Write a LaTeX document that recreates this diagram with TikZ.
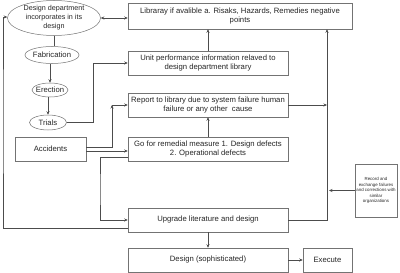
\documentclass[tikz,border=0pt]{standalone}
\usepackage{fontspec}
\setmainfont{Liberation Sans}
\usetikzlibrary{arrows.meta,shapes.geometric}
\begin{document}
\begin{tikzpicture}[x=1pt,y=-1pt,
  every node/.style={text=black!85},
  box/.style={draw=black!55, line width=0.5pt, fill=white, minimum width=160pt, minimum height=24pt, inner sep=1pt, align=center, font=\fontsize{7.7}{9.5}\selectfont},
  ell/.style={draw=black!55, line width=0.5pt, ellipse, inner sep=-5pt, align=center, font=\fontsize{7.7}{9.5}\selectfont},
  arr/.style={-{Stealth[length=3.5pt,width=3pt]}, draw=black!70, line width=0.5pt},
  biarr/.style={{Stealth[length=3.5pt,width=3pt]}-{Stealth[length=3.5pt,width=3pt]}, draw=black!70, line width=0.5pt},
  ln/.style={draw=black!70, line width=0.5pt}]
\useasboundingbox (0,0) rectangle (400,273);
% ellipses
\node[ell, minimum width=93pt, minimum height=35pt, font=\fontsize{7.2}{9}\selectfont] (design) at (54,18) {Design department\\incorporates in its\\design};
\node[ell, minimum width=54pt, minimum height=17pt] (fab) at (52,55) {Fabrication};
\node[ell, minimum width=36pt, minimum height=14pt] (erect) at (50,90) {Erection};
\node[ell, minimum width=37pt, minimum height=15pt] (trials) at (48,122.5) {Trials};
% boxes
\node[box, minimum width=224pt, minimum height=26pt] (lib) at (240,16) {Libraray if avalible a. Risaks, Hazards, Remedies negative\\points};
\node[box] (unit) at (208,63) {Unit performance information relaved to\\design department library};
\node[box] (report) at (208,105) {Report to library due to system failure human\\failure or any other\ \ cause};
\node[box] (go) at (208,149) {Go for remedial measure 1. Design defects\\2. Operational defects};
\node[box] (upgrade) at (208,220) {Upgrade literature and design};
\node[box] (soph) at (208,260) {Design (sophisticated)};
\node[box, minimum width=49pt] (exec) at (327.5,260) {Execute};
\node[box, minimum width=71pt] (acc) at (50.5,149) {Accidents};
\node[box, minimum width=42pt, minimum height=53pt, font=\fontsize{4.4}{5.5}\selectfont] (record) at (376,190.5) {Record and\\exchange failures\\and corrections with\\similar\\organizations};
% helper coordinates
\coordinate (rj) at (327,220);
\coordinate (tc) at (93,122.5);
\coordinate (ac) at (112,105);
\coordinate (gx) at (100,190);
\coordinate (lx) at (3,120);
% connectors
\draw[biarr] (design.east) -- (design.east -| lib.west);
\draw[ln] (design.south) -- (design.south |- fab.north);
\draw[arr] (erect.north |- fab.south) -- (erect.north);
\draw[arr] (trials.north |- erect.south) -- (trials.north);
\draw[arr] (trials.east) -- (tc) |- (unit.west);
\draw[arr] (unit.north) -- (unit.north |- lib.south);
\draw[arr] ([yshift=1.5pt]acc.east) -| (ac);
\draw[arr] (ac) -- (report.west);
\draw[arr] ([yshift=-2pt]acc.east) -- ([yshift=-2pt]go.west);
\draw[arr] (go.north) -- (report.south);
\draw[arr] ([yshift=-8pt]go.west) -| (gx) |- (upgrade.west);
\draw[arr] (upgrade.east) -- (rj) -- (rj |- lib.south);
\draw[arr] (report.east) -- (report.east -| rj);
\draw[arr] (record.west) -- ([xshift=2pt]record.west -| rj);
\draw[arr] (upgrade.south) -- (soph.north);
\draw[arr] (soph.east) -- (exec.west);
\draw[arr] ([yshift=-8pt]upgrade.west) -| (lx) |- ([yshift=1pt]design.west);
\end{tikzpicture}
\end{document}
